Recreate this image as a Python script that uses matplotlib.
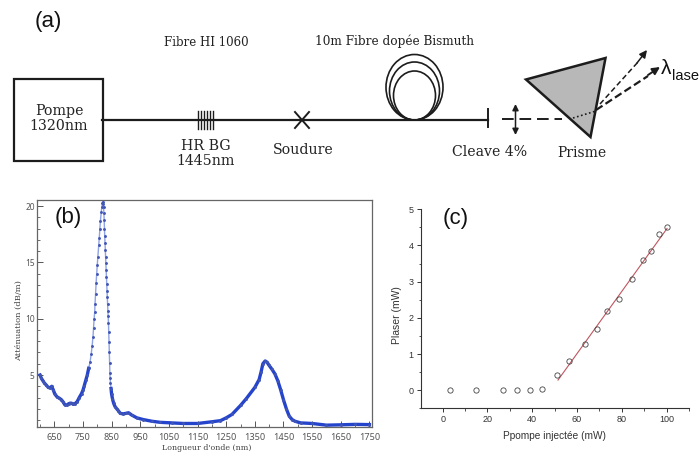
import matplotlib
matplotlib.use("Agg")
import matplotlib.pyplot as plt
import numpy as np
from matplotlib.patches import Ellipse, Polygon, Rectangle

W, H = 699, 455

# panel (b) attenuation spectrum
WAVELENGTH = [600, 605, 610, 615, 622, 629, 635, 641, 646, 652, 660, 667, 675, 681, 687, 695,
              700, 705, 710, 716, 722, 730, 737, 745, 750, 754, 760, 765, 770, 775, 779, 782,
              785, 787, 789, 791, 792, 794, 796, 798, 800, 802, 805, 807, 809, 811, 814, 816,
              818, 820, 821, 822, 823, 824, 825, 826, 827, 828, 829, 830, 831, 832, 833, 834,
              835, 836, 837, 838, 839, 840, 841, 842, 843, 844, 845, 846, 848, 850, 853, 857,
              862, 868, 873, 880, 890, 900, 909, 920, 938, 960, 990, 1020, 1060, 1100, 1150,
              1200, 1230, 1250, 1270, 1300, 1320, 1350, 1365, 1372, 1378, 1386, 1392, 1400,
              1410, 1420, 1430, 1440, 1450, 1460, 1470, 1480, 1490, 1510, 1550, 1600, 1650,
              1700, 1750]
ATTENUATION = [5.0, 4.7, 4.5, 4.3, 4.1, 3.9, 3.85, 4.0, 3.7, 3.3, 3.05, 2.95, 2.8, 2.6, 2.35,
               2.35, 2.45, 2.5, 2.5, 2.4, 2.45, 2.65, 3.0, 3.35, 3.65, 4.0, 4.55, 5.0, 5.6, 6.2,
               6.9, 7.6, 8.4, 9.2, 10.0, 10.6, 11.3, 12.2, 13.2, 14.0, 14.8, 15.5, 16.5, 17.2,
               18.0, 18.7, 19.5, 19.9, 20.3, 20.4, 20.2, 19.9, 19.4, 18.8, 18.0, 17.3, 16.7,
               16.1, 15.5, 14.9, 14.3, 13.7, 13.1, 12.5, 11.9, 11.3, 10.7, 10.2, 9.6, 8.8, 7.9,
               7.0, 6.1, 5.2, 4.7, 4.3, 3.8, 3.3, 2.9, 2.5, 2.2, 2.0, 1.85, 1.6, 1.55, 1.6, 1.65,
               1.45, 1.2, 1.05, 0.9, 0.8, 0.75, 0.7, 0.7, 0.85, 0.95, 1.2, 1.5, 2.3, 2.9, 3.9,
               4.6, 5.3, 6.0, 6.25, 6.15, 5.85, 5.5, 5.1, 4.5, 3.7, 2.8, 2.0, 1.35, 1.05, 0.9,
               0.75, 0.7, 0.55, 0.58, 0.62, 0.6]
B_XTICKS = [650, 750, 850, 950, 1050, 1150, 1250, 1350, 1450, 1550, 1650, 1750]
B_YTICKS = [5, 10, 15, 20]

# panel (c) laser power against injected pump power
PUMP = [3.2, 15, 27, 33, 39, 44.3, 51, 56.4, 63.5, 68.7, 73.6, 78.9, 84.6, 89.6, 93.2, 96.7, 100.2]
PLASER = [0, 0, 0, 0, 0, 0.03, 0.42, 0.81, 1.29, 1.68, 2.19, 2.51, 3.08, 3.61, 3.84, 4.33, 4.5]
FIT_PUMP = [51.5, 100.2]
FIT_PLASER = [0.28, 4.47]
C_XTICKS = [0, 20, 40, 60, 80, 100]
C_YTICKS = [0, 1, 2, 3, 4, 5]

SERIF = ["DejaVu Serif"]
SANS = ["Liberation Sans"]


def axes_from_pixels(fig, left, top, right, bottom):
    return fig.add_axes([left / W, 1 - bottom / H, (right - left) / W, (bottom - top) / H])


def draw_diagram(ax):
    ax.set_xlim(0, W)
    ax.set_ylim(H, 0)
    ax.axis("off")
    ink = "#1c1c1c"

    ax.add_patch(Rectangle((14, 79), 88.5, 82, fill=False, edgecolor=ink, linewidth=1.6))
    ax.plot([102, 488], [120, 120], color=ink, linewidth=1.6)
    ax.plot([488, 488], [109, 127], color=ink, linewidth=1.4)

    # bragg grating and splice
    for x in [197.5, 200.5, 203.5, 206.5, 209.5, 212.5]:
        ax.plot([x, x], [111, 129], color=ink, linewidth=1.0)
    ax.plot([295, 309], [112, 128], color=ink, linewidth=1.4)
    ax.plot([295, 309], [128, 112], color=ink, linewidth=1.4)

    # bismuth fibre coil
    for top, width in [(54.5, 57), (62, 50), (71, 42)]:
        ax.add_patch(Ellipse((414.5, (top + 120) / 2), width, 120 - top, fill=False,
                             edgecolor=ink, linewidth=1.2))

    # prism and beams
    ax.add_patch(Polygon([(526, 79.5), (605.5, 58), (590.5, 137)], facecolor="#b8b8b8",
                         edgecolor=ink, linewidth=1.8, joinstyle="miter"))
    ax.plot([502, 562], [119, 119], color=ink, linewidth=1.4, dashes=(6, 3))
    ax.plot([573, 596], [118, 111], color=ink, linewidth=1.2, linestyle=(0, (1, 1.5)))
    ax.annotate("", xy=(515.5, 135), xytext=(515.5, 104),
                arrowprops=dict(arrowstyle="<|-|>", color=ink, linewidth=1.1, mutation_scale=9,
                                shrinkA=0, shrinkB=0))
    ax.plot([600, 638], [104, 62], color=ink, linewidth=1.1, dashes=(3.5, 2))
    ax.annotate("", xy=(647, 50), xytext=(637, 63),
                arrowprops=dict(arrowstyle="-|>", color=ink, linewidth=1.1, mutation_scale=11,
                                shrinkA=0, shrinkB=0))
    ax.plot([596, 648], [110, 76], color=ink, linewidth=1.6, dashes=(3.5, 1.6))
    ax.annotate("", xy=(660, 67), xytext=(648, 75),
                arrowprops=dict(arrowstyle="-|>", color=ink, linewidth=1.4, mutation_scale=11,
                                shrinkA=0, shrinkB=0))

    labels = [
        (59, 118.5, "Pompe\n1320nm", 10.2),
        (206, 42, "Fibre HI 1060", 8.5),
        (394.5, 41, "10m Fibre dopée Bismuth", 8.7),
        (206, 153.5, "HR BG\n1445nm", 10.2),
        (303, 150, "Soudure", 10.2),
        (490, 152, "Cleave 4%", 10.2),
        (582, 153, "Prisme", 10),
    ]
    for x, y, text, size in labels:
        ax.text(x, y, text, family=SERIF, fontsize=size, color="#222222", ha="center",
                va="center", linespacing=1.05)

    ax.text(48, 21, "(a)", family=SANS, fontsize=16, color="#111111", ha="center", va="center")
    ax.text(660.5, 68, "λ", family=SANS, fontsize=15, color="#111111", va="center")
    ax.text(672, 76, "lase", family=SANS, fontsize=10.5, color="#111111", va="center")


def draw_spectrum(ax):
    wavelength = np.array(WAVELENGTH)
    attenuation = np.array(ATTENUATION)
    steep = (wavelength > 772) & (wavelength < 848)
    ax.plot(wavelength, attenuation, color="#8ea2e6", linewidth=1.0, zorder=2)
    ax.plot(wavelength, np.ma.masked_where(steep, attenuation), color="#2544cc",
            linewidth=2.4, zorder=2)
    ax.plot(wavelength, attenuation, linestyle="none", marker="o", markersize=2.1,
            markeredgewidth=0, color="#4256b4", zorder=3)
    ax.set_xlim(588.5, 1760)
    ax.set_ylim(0.36, 20.58)
    ax.set_xticks(B_XTICKS)
    ax.set_xticks([x - 50 for x in B_XTICKS], minor=True)
    ax.set_yticks(B_YTICKS)
    ax.set_yticks([y for y in range(1, 21) if y % 5], minor=True)
    ax.tick_params(which="major", direction="in", length=4, width=0.7, color="#555555",
                   labelsize=6.6, labelcolor="#555555")
    ax.tick_params(axis="x", which="major", pad=4)
    ax.tick_params(axis="y", which="major", pad=1.5, labelsize=6)
    ax.tick_params(which="minor", direction="in", length=2.2, width=0.6, color="#555555")
    for spine in ax.spines.values():
        spine.set_color("#666666")
        spine.set_linewidth(0.9)
    for label in ax.get_xticklabels() + ax.get_yticklabels():
        label.set_family(["Noto Sans"])
    ax.set_xlabel("Longueur d'onde (nm)", family=SERIF, fontsize=5.7, color="#444444")
    ax.xaxis.set_label_coords(0.507, -0.075)
    ax.set_ylabel("Atténuation (dB/m)", family=SERIF, fontsize=6, color="#444444")
    ax.yaxis.set_label_coords(-0.042, 0.47)
    ax.text(0.095, 0.923, "(b)", transform=ax.transAxes, family=SANS, fontsize=16,
            color="#111111", ha="center", va="center")


def draw_power(ax):
    ax.plot(FIT_PUMP, FIT_PLASER, color="#c0555f", linewidth=0.8, zorder=2)
    ax.plot(PUMP, PLASER, linestyle="none", marker="o", markersize=3.8, markerfacecolor="none",
            markeredgecolor="#444444", markeredgewidth=0.6, zorder=3)
    ax.set_xlim(-9.8, 109.8)
    ax.set_ylim(-0.5, 5)
    ax.set_xticks(C_XTICKS)
    ax.set_xticks([x + 10 for x in C_XTICKS], minor=True)
    ax.set_yticks(C_YTICKS)
    ax.set_yticks([y - 0.5 for y in C_YTICKS], minor=True)
    ax.tick_params(which="major", length=3, width=0.7, color="#333333", labelsize=6.5,
                   labelcolor="#333333", pad=2)
    ax.tick_params(which="minor", length=1.8, width=0.6, color="#333333")
    ax.spines["top"].set_visible(False)
    ax.spines["right"].set_visible(False)
    for side in ["left", "bottom"]:
        ax.spines[side].set_color("#333333")
        ax.spines[side].set_linewidth(0.8)
    for label in ax.get_xticklabels() + ax.get_yticklabels():
        label.set_family(SANS)
    ax.set_xlabel("Ppompe injectée (mW)", family=SANS, fontsize=7.3, color="#333333")
    ax.xaxis.set_label_coords(0.497, -0.115)
    ax.set_ylabel("Plaser (mW)", family=SANS, fontsize=7.5, color="#333333")
    ax.yaxis.set_label_coords(-0.068, 0.47)
    ax.text(0.1316, 0.956, "(c)", transform=ax.transAxes, family=SANS, fontsize=16,
            color="#111111", ha="center", va="center")


def main():
    fig = plt.figure(figsize=(W / 100, H / 100), dpi=100)
    draw_diagram(axes_from_pixels(fig, 0, 0, W, H))
    draw_spectrum(axes_from_pixels(fig, 36.7, 199.5, 372.3, 427.3))
    draw_power(axes_from_pixels(fig, 420.7, 209.3, 689, 408.3))
    fig.savefig("out.png", dpi=100)
    plt.close(fig)


if __name__ == "__main__":
    main()
